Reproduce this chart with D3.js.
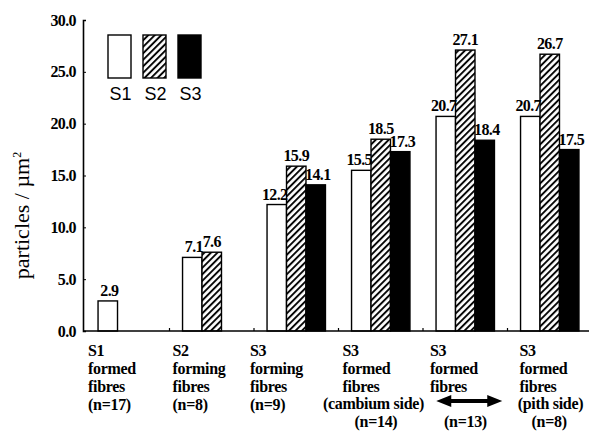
<!DOCTYPE html>
<html>
<head>
<meta charset="utf-8">
<script src="https://cdn.jsdelivr.net/npm/d3@7"></script>
<style>
  body { margin: 0; background: #fff; }
  svg { display: block; }
</style>
</head>
<body>
<div id="chart"></div>
<script>
// data
const categories = ["g1", "g2", "g3", "g4", "g5", "g6"];
const series = ["S1", "S2", "S3"];
const s1Values = [2.9, 7.1, 12.2, 15.5, 20.7, 20.7];
const s2Values = [null, 7.6, 15.9, 18.5, 27.1, 26.7];
const s3Values = [null, null, 14.1, 17.3, 18.4, 17.5];
const yTicks = [0, 5, 10, 15, 20, 25, 30];
const catHead = [
    ["S1", "formed", "fibres"],
    ["S2", "forming", "fibres"],
    ["S3", "forming", "fibres"],
    ["S3", "formed", "fibres"],
    ["S3", "formed", "fibres"],
    ["S3", "formed", "fibres"]
];
const catSide = [null, null, null, "(cambium side)", null, "(pith side)"];
const catN = ["(n=17)", "(n=8)", "(n=9)", "(n=14)", "(n=13)", "(n=8)"];

const width = 590, height = 432;
const margin = { top: 20, left: 85, bottom: 101 };
const labelDx = [3, 3, -4, 4, 7, 12];   // hand nudges of the category blocks

const svg = d3.select("#chart").append("svg")
    .attr("width", width)
    .attr("height", height);

// hatch pattern for S2
const defs = svg.append("defs");
defs.append("pattern")
    .attr("id", "hatch")
    .attr("patternUnits", "userSpaceOnUse")
    .attr("width", 4.6)
    .attr("height", 4.6)
    .attr("patternTransform", "rotate(45)")
    .call(p => {
        p.append("rect").attr("width", 4.6).attr("height", 4.6).attr("fill", "#fff");
        p.append("line")
            .attr("x1", 1).attr("y1", 0)
            .attr("x2", 1).attr("y2", 4.6)
            .attr("stroke", "#000")
            .attr("stroke-width", 1.9);
    });

const fills = { S1: "#fff", S2: "url(#hatch)", S3: "#000" };

const x0 = d3.scaleBand()
    .domain(categories)
    .range([margin.left, 592])
    .padding(0);
const x1 = d3.scaleBand()
    .domain(series)
    .range([0, x0.bandwidth()])
    .paddingInner(0)
    .paddingOuter(0.67);
const y = d3.scaleLinear()
    .domain([0, 30])
    .range([height - margin.bottom, margin.top]);

const rows = categories.map((c, i) => ({
    cat: c,
    values: [
        { s: "S1", v: s1Values[i] },
        { s: "S2", v: s2Values[i] },
        { s: "S3", v: s3Values[i] }
    ].filter(d => d.v !== null)
}));

// bars
const groups = svg.selectAll(".group")
    .data(rows)
    .enter().append("g")
    .attr("class", "group")
    .attr("transform", d => `translate(${x0(d.cat)},0)`);

groups.selectAll("rect")
    .data(d => d.values)
    .enter().append("rect")
    .attr("x", d => x1(d.s))
    .attr("y", d => y(d.v))
    .attr("width", x1.bandwidth())
    .attr("height", d => y(0) - y(d.v))
    .attr("fill", d => fills[d.s])
    .attr("stroke", "#000")
    .attr("stroke-width", 1.4);

// value labels: S1 right aligned, S2 centered, S3 left aligned
groups.selectAll(".val")
    .data(d => d.values)
    .enter().append("text")
    .attr("class", "val")
    .attr("x", d => d.s === "S1" ? x1(d.s) + x1.bandwidth() + 1
        : d.s === "S2" ? x1(d.s) + x1.bandwidth() / 2 : x1(d.s) - 1)
    .attr("y", d => y(d.v) - 5)
    .attr("text-anchor", d => d.s === "S1" ? "end" : d.s === "S2" ? "middle" : "start")
    .style("font-family", "'Liberation Serif', serif")
    .style("font-weight", "bold")
    .style("font-size", "16px")
    .style("letter-spacing", "-0.6px")
    .text(d => d.v.toFixed(1));

// x axis line with ticks at group borders
svg.append("line")
    .attr("x1", margin.left - 2).attr("x2", 589)
    .attr("y1", y(0)).attr("y2", y(0))
    .attr("stroke", "#000").attr("stroke-width", 1.6);
svg.selectAll(".xtick")
    .data(categories.slice(1))
    .enter().append("line")
    .attr("x1", d => x0(d)).attr("x2", d => x0(d))
    .attr("y1", y(0)).attr("y2", y(0) - 3)
    .attr("stroke", "#000").attr("stroke-width", 1.2);

// y axis
const yAxis = d3.axisLeft(y)
    .tickValues(yTicks)
    .tickSize(-3)
    .tickPadding(7)
    .tickFormat(d3.format(".1f"));
const yAxisG = svg.append("g")
    .attr("transform", `translate(${margin.left - 2},0)`)
    .call(yAxis);
yAxisG.select(".domain").attr("stroke-width", 1.6);
yAxisG.selectAll("text")
    .style("font-family", "'Liberation Serif', serif")
    .style("font-weight", "bold")
    .style("font-size", "16px")
    .style("letter-spacing", "-0.6px");

// y axis title
svg.append("text")
    .attr("transform", `translate(29,${(y(0) + y(30)) / 2 + 40}) rotate(-90)`)
    .attr("text-anchor", "middle")
    .style("font-family", "'Liberation Serif', serif")
    .style("font-size", "22px")
    .text("particles / \u00b5m")
    .append("tspan")
    .attr("dy", -8)
    .style("font-size", "12px")
    .text("2");

// category labels
const catG = svg.selectAll(".cat")
    .data(categories)
    .enter().append("g")
    .attr("class", "cat")
    .attr("transform", (d, i) => `translate(${x0(d) + labelDx[i]},0)`)
    .style("font-family", "'Liberation Serif', serif")
    .style("font-size", "16px")
    .style("font-weight", "bold")
    .style("letter-spacing", "-0.3px");

catG.each(function (d, i) {
    const g = d3.select(this);
    catHead[i].forEach((t, k) => {
        g.append("text").attr("x", 0).attr("y", 356 + k * 18).text(t);
    });
    if (catSide[i]) {
        g.append("text").attr("x", 31).attr("y", 409)
            .attr("text-anchor", "middle").text(catSide[i]);
        g.append("text").attr("x", 12).attr("y", 427).text(catN[i]);
    } else if (i === 4) {
        g.append("text").attr("x", 14).attr("y", 427).text(catN[i]);
    } else {
        g.append("text").attr("x", 0).attr("y", 410).text(catN[i]);
    }
});

// double headed arrow under the middle group
const ac = x0("g5") + x0.bandwidth() / 2 + 4, ay = 401;
svg.append("path")
    .attr("d", `M${ac - 33},${ay} L${ac - 18},${ay - 6} L${ac - 18},${ay - 2} L${ac + 18},${ay - 2}
                L${ac + 18},${ay - 6} L${ac + 33},${ay} L${ac + 18},${ay + 6} L${ac + 18},${ay + 2}
                L${ac - 18},${ay + 2} L${ac - 18},${ay + 6} Z`)
    .attr("fill", "#000");

// legend
const legend = svg.append("g")
    .attr("transform", "translate(108,35)");
legend.selectAll("rect")
    .data(series)
    .enter().append("rect")
    .attr("x", (d, i) => i * 35)
    .attr("y", 0)
    .attr("width", 23)
    .attr("height", 43)
    .attr("fill", d => fills[d])
    .attr("stroke", "#000")
    .attr("stroke-width", 1.4);
legend.selectAll("text")
    .data(series)
    .enter().append("text")
    .attr("x", (d, i) => i * 35 + 12.5)
    .attr("y", 65)
    .attr("text-anchor", "middle")
    .style("font-family", "'Liberation Sans', sans-serif")
    .style("font-size", "18px")
    .text(d => d);
</script>
</body>
</html>
